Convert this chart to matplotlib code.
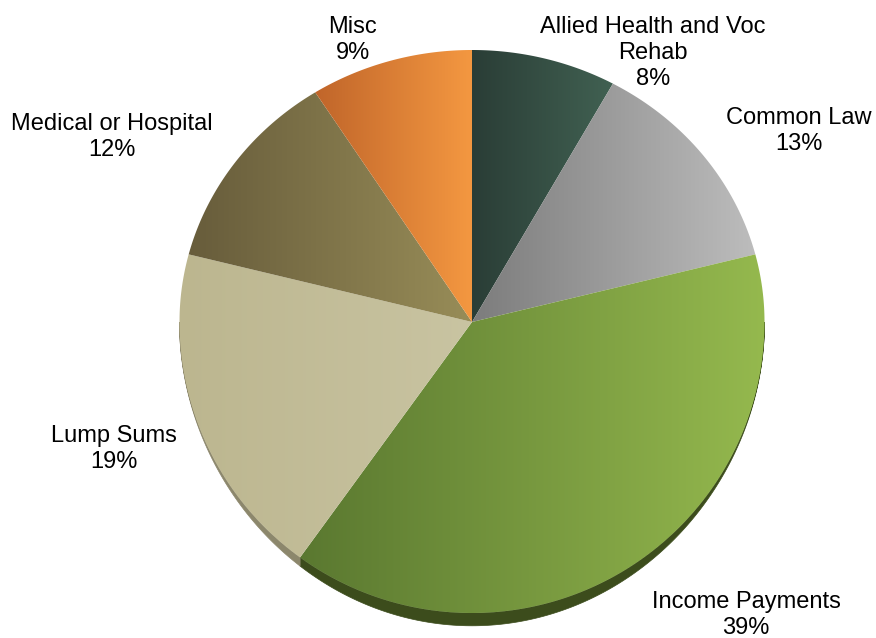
import numpy as np
import matplotlib.pyplot as plt
from matplotlib.patches import Polygon
from matplotlib.colors import LinearSegmentedColormap

# Share of spending by category, clockwise from 12 o'clock
categories = ["Allied Health and Voc\nRehab", "Common Law", "Income Payments",
              "Lump Sums", "Medical or Hospital", "Misc"]
shares = [8, 13, 39, 19, 12, 9]

# Horizontal gradient (left, right) for each slice and the colour of its side
left_colors = ["#2a3d36", "#7c7c7c", "#5a7830", "#bcb68f", "#675c3b", "#c0652a"]
right_colors = ["#416152", "#bdbdbd", "#95b94e", "#c9c4a2", "#988d58", "#f49841"]
side_colors = ["#1f2e28", "#5e5e5e", "#3c4c1c", "#8c876c", "#4b432a", "#8f4a1c"]

# Label block centres in pixels
label_pos = [(653, 53), (799, 131), (746, 615), (114, 449), (112, 137), (353, 40)]

W, H = 876, 638
cx, cy = 472, 322
rx, ry_top, ry_bot = 292.5, 272, 291
depth = 12

plt.rcParams["font.family"] = ["Liberation Sans", "DejaVu Sans"]


def arc(t0, t1, n=200):
    t = np.linspace(t0, t1, n)
    ry = np.where(np.cos(t) > 0, ry_top, ry_bot)
    return t, cx + rx * np.sin(t), cy - ry * np.cos(t)


fig = plt.figure(figsize=(W / 100, H / 100), dpi=100)
ax = fig.add_axes([0, 0, 1, 1])

fracs = np.array(shares, dtype=float) / sum(shares)
edges = np.concatenate([[0], np.cumsum(fracs)]) * 2 * np.pi

# Side of the pie, thickest at the front and fading out towards the sides
for i in range(len(shares)):
    a, b = max(edges[i], np.pi / 2), min(edges[i + 1], 3 * np.pi / 2)
    if b <= a:
        continue
    t, x, y = arc(a, b)
    d = depth * np.clip(-np.cos(t), 0, 1) ** 2 + 0.8
    xs = np.concatenate([x, x[::-1]])
    ys = np.concatenate([y, (y + d)[::-1]])
    ax.add_patch(Polygon(np.column_stack([xs, ys]), closed=True,
                         facecolor=side_colors[i], edgecolor=side_colors[i],
                         lw=0.5, zorder=1))

# Top faces with a left-to-right gradient
grad = np.linspace(0, 1, 256).reshape(1, -1)
for i in range(len(shares)):
    _, x, y = arc(edges[i], edges[i + 1])
    xs = np.concatenate([[cx], x])
    ys = np.concatenate([[cy], y])
    poly = Polygon(np.column_stack([xs, ys]), closed=True, facecolor="none",
                   edgecolor="none", lw=0, zorder=2)
    ax.add_patch(poly)
    cmap = LinearSegmentedColormap.from_list("s%d" % i,
                                             [left_colors[i], right_colors[i]])
    im = ax.imshow(grad, cmap=cmap, aspect="auto", zorder=2,
                   extent=(xs.min() - 1, xs.max() + 1, ys.max() + 1, ys.min() - 1))
    im.set_clip_path(poly)

# Category labels with percentages
for name, share, (lx, ly) in zip(categories, shares, label_pos):
    ax.text(lx, ly, "%s\n%d%%" % (name, share), ha="center", va="center",
            multialignment="center", fontsize=17, linespacing=1.25,
            color="#000000", zorder=3)

ax.set_xlim(0, W)
ax.set_ylim(H, 0)
ax.axis("off")

fig.savefig("out.png", dpi=100, facecolor="white")
